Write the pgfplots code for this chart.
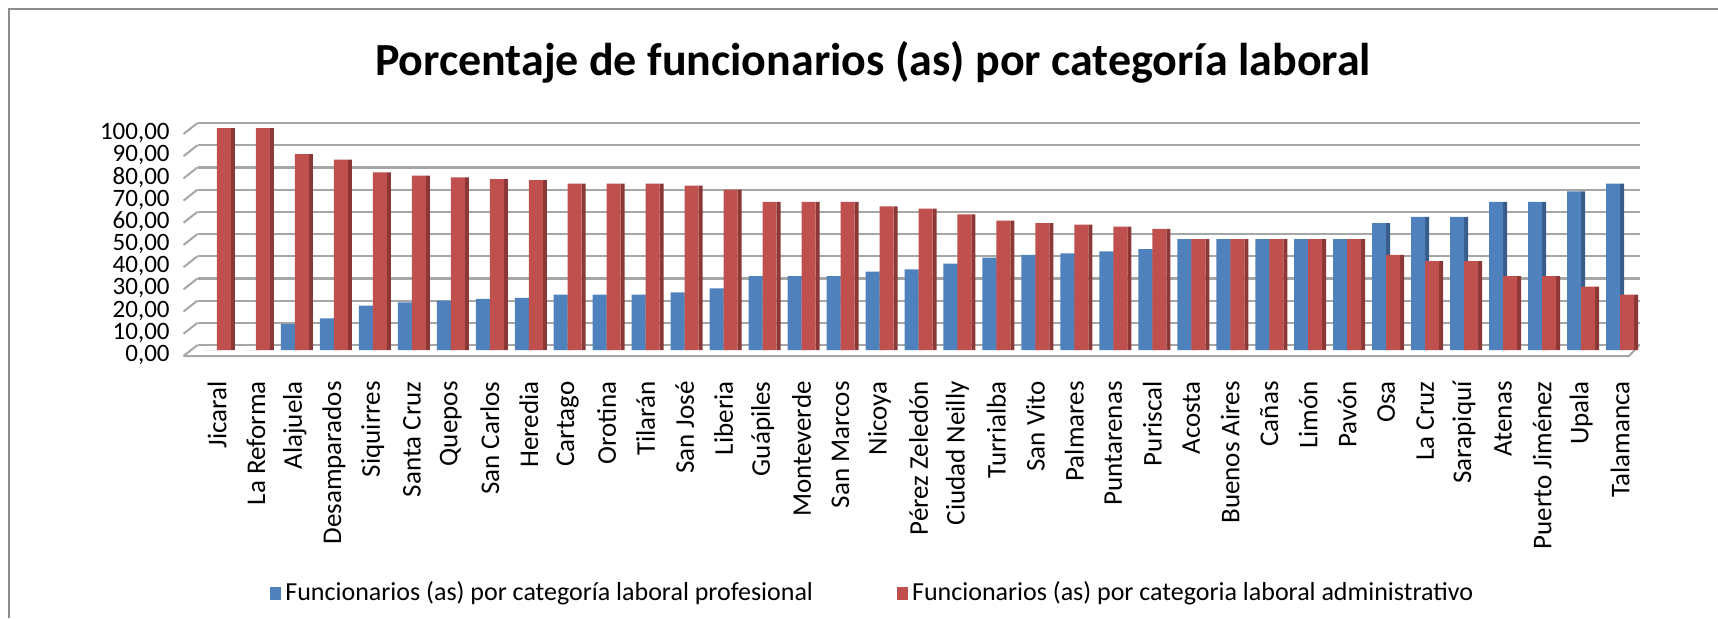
\documentclass[border=0pt]{standalone}
\usepackage{fontspec}
\setmainfont{Carlito}
\usepackage{pgfplots}
\usepackage{pgfplotstable}
\pgfplotsset{compat=1.18}
\definecolor{blueF}{HTML}{4F81BD}
\definecolor{blueS}{HTML}{385D8A}
\definecolor{redF}{HTML}{C0504D}
\definecolor{redS}{HTML}{8C3836}
\definecolor{gridc}{HTML}{A6A6A6}
\definecolor{framec}{HTML}{8C8C8C}

\pgfplotstableread{
x blue red
0 0 100
1 0 100
2 11.76 88.24
3 14.29 85.71
4 20.00 80.00
5 21.43 78.57
6 22.22 77.78
7 23.08 76.92
8 23.53 76.47
9 25.00 75.00
10 25.00 75.00
11 25.00 75.00
12 25.93 74.07
13 27.78 72.22
14 33.33 66.67
15 33.33 66.67
16 33.33 66.67
17 35.29 64.71
18 36.36 63.64
19 38.89 61.11
20 41.67 58.33
21 42.86 57.14
22 43.48 56.52
23 44.44 55.56
24 45.45 54.55
25 50.00 50.00
26 50.00 50.00
27 50.00 50.00
28 50.00 50.00
29 50.00 50.00
30 57.14 42.86
31 60.00 40.00
32 60.00 40.00
33 66.67 33.33
34 66.67 33.33
35 71.43 28.57
36 75.00 25.00
}\data

\begin{document}
\begin{tikzpicture}
\path[use as bounding box] (0,0) rectangle (859pt,309pt);
\draw[framec, line width=1.3pt] (4.5pt,0) -- (4.5pt,304.5pt) -- (860pt,304.5pt);
\node[font=\bfseries\fontsize{23}{23}\selectfont] at (436.5pt,278pt) {Porcentaje de funcionarios (as) por categoría laboral};
\begin{axis}[
  at={(98.75pt,136.5pt)}, anchor=south west,
  scale only axis, width=721pt, height=111pt,
  xmin=-0.5, xmax=36.5, ymin=0, ymax=100,
  clip=false,
  ytick={0,10,...,100},
  xtick={0,...,36},
  xticklabels={Jicaral, La Reforma, Alajuela, Desamparados, Siquirres, Santa Cruz, Quepos, San Carlos, Heredia, Cartago, Orotina, Tilarán, San José, Liberia, Guápiles, Monteverde, San Marcos, Nicoya, Pérez Zeledón, Ciudad Neilly, Turrialba, San Vito, Palmares, Puntarenas, Puriscal, Acosta, Buenos Aires, Cañas, Limón, Pavón, Osa, La Cruz, Sarapiquí, Atenas, Puerto Jiménez, Upala, Talamanca},
  axis line style={draw=none},
  major tick length=0pt,
  ymajorgrids, grid style={gridc, line width=1.1pt},
  yticklabel style={font=\fontsize{12.5}{12.5}\selectfont, anchor=east, inner sep=0pt, yshift=-5pt,
    /pgf/number format/fixed, /pgf/number format/fixed zerofill,
    /pgf/number format/precision=2, /pgf/number format/use comma,
    /pgf/number format/assume math mode=true},
  yticklabel shift=13.75pt,
  xticklabel style={font=\fontsize{13.5}{13.5}\selectfont, rotate=90, anchor=east, inner sep=0pt},
  xticklabel shift=18pt,
  legend style={at={(0.469,-1.115)}, anchor=center, draw=none, fill=none,
    legend columns=2, font=\fontsize{13}{13}\selectfont, inner sep=0pt,
    /tikz/every even column/.append style={column sep=40pt}},
  legend cell align=left,
]
\pgfplotsinvokeforeach{0,10,20,30,40,50,60,70,80,90,100}{
  \draw[gridc, line width=1pt] (axis cs:-0.5,#1) -- ++(-7pt,-5.5pt);
}
\draw[gridc, line width=1pt] (axis cs:-0.5,0) ++(-7pt,-5.5pt) -- ++(713pt,0) -- (axis cs:36.5,0);
\addplot[ybar, bar width=2pt, bar shift=8pt, fill=redS, draw=none, yshift=-2.5pt, forget plot] table[x=x,y=red]{\data};
\addplot[ybar, bar width=2pt, bar shift=1pt, fill=blueS, draw=none, yshift=-2.5pt, forget plot] table[x=x,y=blue]{\data};
\addplot[ybar, bar width=7pt, bar shift=-3.5pt, fill=blueF, draw=none, yshift=-2.5pt,
  legend image code/.code={\fill[blueF] (0pt,-1pt) rectangle (5.5pt,5.5pt);}] table[x=x,y=blue]{\data};
\addlegendentry{Funcionarios (as) por categoría laboral profesional}
\addplot[ybar, bar width=7pt, bar shift=3.5pt, fill=redF, draw=none, yshift=-2.5pt,
  legend image code/.code={\fill[redF] (0pt,-1pt) rectangle (5.5pt,5.5pt);}] table[x=x,y=red]{\data};
\addlegendentry{Funcionarios (as) por categoria laboral administrativo}
\end{axis}
\end{tikzpicture}
\end{document}
